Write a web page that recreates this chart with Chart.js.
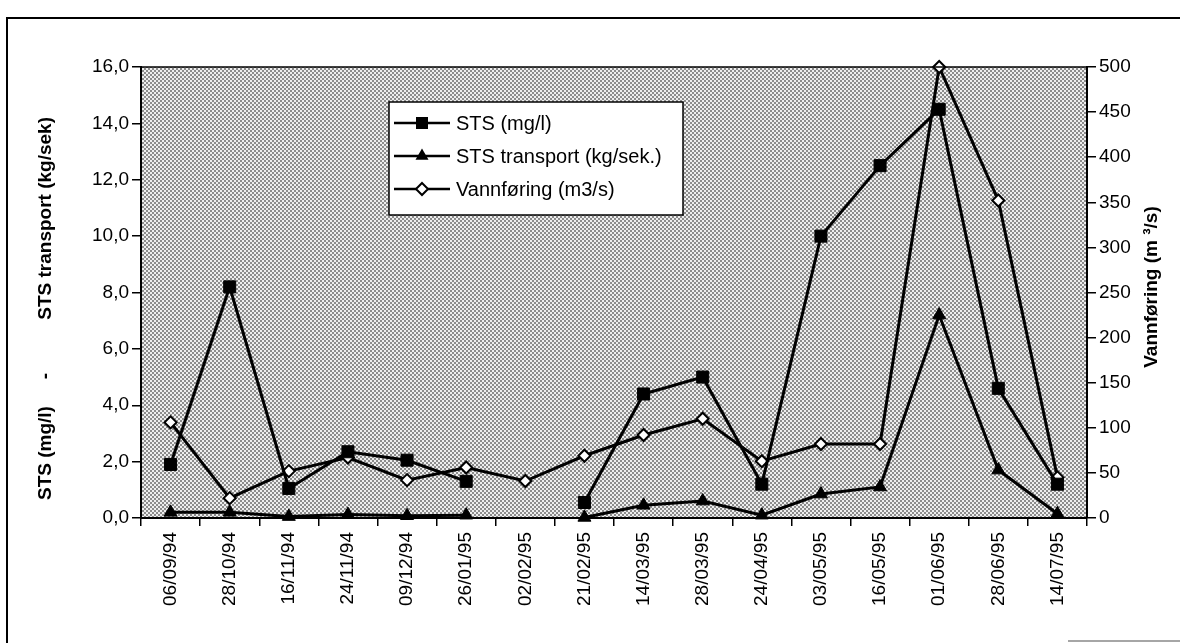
<!DOCTYPE html>
<html>
<head>
<meta charset="utf-8">
<script src="https://cdn.jsdelivr.net/npm/chart.js@4.4.1/dist/chart.umd.min.js"></script>
<style>
  html, body { margin: 0; padding: 0; background: #fff; }
  #wrap { position: relative; width: 1180px; height: 643px; }
</style>
</head>
<body>
<div id="wrap"><canvas id="c" width="1180" height="643"></canvas></div>
<script>
// ---- data ----
const categories = ['06/09/94','28/10/94','16/11/94','24/11/94','09/12/94','26/01/95','02/02/95','21/02/95',
                    '14/03/95','28/03/95','24/04/95','03/05/95','16/05/95','01/06/95','28/06/95','14/07/95'];
const stsMgL      = [1.9, 8.2, 1.05, 2.35, 2.05, 1.3, null, 0.55, 4.4, 5.0, 1.2, 10.0, 12.5, 14.5, 4.6, 1.2];
const stsTransport = [0.2, 0.2, 0.05, 0.12, 0.08, 0.1, null, 0.02, 0.45, 0.6, 0.1, 0.85, 1.1, 7.2, 1.7, 0.15];
const vannforing  = [106, 22, 52, 67, 42, 56, 41, 69, 92, 110, 63, 82, 82, 500, 352, 45];
const seriesNames = ['STS (mg/l)', 'STS transport (kg/sek.)', 'Vannføring (m3/s)'];
const leftAxisTitle = ['STS (mg/l)', '-', 'STS transport (kg/sek)'];
const rightAxisTitle = 'Vannføring (m ³/s)';

const FONT = '"Liberation Sans", Arial, Helvetica, sans-serif';

// stipple pattern for the plot background
const pc = document.createElement('canvas');
pc.width = 4; pc.height = 4;
const pctx = pc.getContext('2d');
pctx.fillStyle = '#eeeeee'; pctx.fillRect(0, 0, 4, 4);
pctx.fillStyle = '#8c8c8c'; pctx.fillRect(0, 0, 2, 2); pctx.fillRect(2, 2, 2, 2);

function drawMarker(ctx, style, x, y) {
  ctx.save();
  ctx.lineWidth = 1;
  ctx.strokeStyle = '#000';
  ctx.fillStyle = '#000';
  ctx.beginPath();
  if (style === 'rect') {
    ctx.rect(x - 6, y - 6, 12, 12);
    ctx.fill();
  } else if (style === 'triangle') {
    ctx.moveTo(x, y - 7.5); ctx.lineTo(x + 6.5, y + 3.8); ctx.lineTo(x - 6.5, y + 3.8); ctx.closePath();
    ctx.fill();
  } else {
    ctx.lineWidth = 2;
    ctx.fillStyle = '#fff';
    ctx.moveTo(x, y - 6); ctx.lineTo(x + 6, y); ctx.lineTo(x, y + 6); ctx.lineTo(x - 6, y); ctx.closePath();
    ctx.fill(); ctx.stroke();
  }
  ctx.restore();
}

const decor = {
  id: 'decor',
  beforeDraw(chart) {
    const ctx = chart.ctx, a = chart.chartArea;
    ctx.save();
    ctx.fillStyle = '#fff';
    ctx.fillRect(0, 0, chart.width, chart.height);
    ctx.fillStyle = ctx.createPattern(pc, 'repeat');
    ctx.fillRect(a.left, a.top, a.right - a.left, a.bottom - a.top);
    ctx.restore();
  },
  afterDraw(chart) {
    const ctx = chart.ctx, a = chart.chartArea;
    ctx.save();
    // plot top edge
    ctx.strokeStyle = '#000'; ctx.lineWidth = 1.5;
    ctx.beginPath(); ctx.moveTo(a.left, a.top); ctx.lineTo(a.right, a.top); ctx.stroke();
    // outer frame
    ctx.lineWidth = 2;
    ctx.beginPath(); ctx.moveTo(7, 643); ctx.lineTo(7, 18); ctx.lineTo(1180, 18); ctx.stroke();
    ctx.strokeStyle = '#888'; ctx.lineWidth = 1.5;
    ctx.beginPath(); ctx.moveTo(1068, 641); ctx.lineTo(1180, 641); ctx.stroke();

    // axis titles
    ctx.fillStyle = '#000';
    ctx.font = 'bold 19px ' + FONT;
    ctx.textBaseline = 'middle';
    ctx.save();
    ctx.translate(46, 0); ctx.rotate(-Math.PI / 2);
    ctx.textAlign = 'left';  ctx.fillText(leftAxisTitle[0], -500, 0);
    ctx.textAlign = 'center'; ctx.fillText(leftAxisTitle[1], -376, 0);
    ctx.textAlign = 'right'; ctx.fillText(leftAxisTitle[2], -117, 0);
    ctx.restore();
    ctx.save();
    ctx.translate(1152, 0); ctx.rotate(-Math.PI / 2);
    ctx.textAlign = 'center'; ctx.fillText(rightAxisTitle, -287, 0);
    ctx.restore();

    // legend box
    const bx = 389, by = 102, bw = 294, bh = 113;
    ctx.fillStyle = '#fff';
    ctx.fillRect(bx, by, bw, bh);
    ctx.strokeStyle = '#000'; ctx.lineWidth = 1.5;
    ctx.strokeRect(bx, by, bw, bh);
    const styles = ['rect', 'triangle', 'rectRot'];
    ctx.font = '20px ' + FONT;
    ctx.textAlign = 'left'; ctx.textBaseline = 'middle';
    seriesNames.forEach((name, i) => {
      const yy = 123 + i * 33;
      ctx.strokeStyle = '#000'; ctx.lineWidth = 2.5;
      ctx.beginPath(); ctx.moveTo(394, yy); ctx.lineTo(450, yy); ctx.stroke();
      drawMarker(ctx, styles[i], 422, yy);
      ctx.fillStyle = '#000';
      ctx.fillText(name, 456, yy + 1);
    });
    ctx.restore();
  }
};

const tickFont = { family: FONT, size: 19 };

new Chart(document.getElementById('c'), {
  type: 'line',
  data: {
    labels: categories,
    datasets: [
      { label: seriesNames[0], data: stsMgL, yAxisID: 'y',
        borderColor: '#000', borderWidth: 3, pointStyle: 'rect', pointRadius: 8.5,
        pointBackgroundColor: '#000', pointBorderColor: '#000', pointBorderWidth: 1,
        spanGaps: false, clip: false, tension: 0 },
      { label: seriesNames[1], data: stsTransport, yAxisID: 'y',
        borderColor: '#000', borderWidth: 3, pointStyle: 'triangle', pointRadius: 7.5,
        pointBackgroundColor: '#000', pointBorderColor: '#000', pointBorderWidth: 1,
        spanGaps: false, clip: false, tension: 0 },
      { label: seriesNames[2], data: vannforing, yAxisID: 'y1',
        borderColor: '#000', borderWidth: 3, pointStyle: 'rectRot', pointRadius: 6,
        pointBackgroundColor: '#fff', pointBorderColor: '#000', pointBorderWidth: 2,
        spanGaps: false, clip: false, tension: 0 }
    ]
  },
  options: {
    responsive: false,
    animation: false,
    devicePixelRatio: 1,
    layout: { padding: { top: 67, left: 0, right: 0, bottom: 0 } },
    plugins: { legend: { display: false }, tooltip: { enabled: false } },
    scales: {
      x: {
        type: 'category',
        offset: true,
        grid: { offset: true, drawOnChartArea: false, drawTicks: true, tickLength: 8, color: '#000', lineWidth: 1.5 },
        border: { display: true, color: '#000', width: 2 },
        ticks: { autoSkip: false, minRotation: 90, maxRotation: 90, color: '#000', font: tickFont, padding: 6 },
        afterFit(s) { s.height = 125; }
      },
      y: {
        position: 'left', min: 0, max: 16,
        grid: { drawOnChartArea: false, tickLength: 9, color: '#000', lineWidth: 1.5 },
        border: { display: true, color: '#000', width: 2 },
        ticks: { stepSize: 2, color: '#000', font: tickFont, padding: 3,
                 callback: v => v.toFixed(1).replace('.', ',') },
        afterFit(s) { s.width = 141; }
      },
      y1: {
        position: 'right', min: 0, max: 500,
        grid: { drawOnChartArea: false, tickLength: 9, color: '#000', lineWidth: 1.5 },
        border: { display: true, color: '#000', width: 2 },
        ticks: { stepSize: 50, color: '#000', font: tickFont, padding: 3 },
        afterFit(s) { s.width = 93; }
      }
    }
  },
  plugins: [decor]
});
</script>
</body>
</html>
